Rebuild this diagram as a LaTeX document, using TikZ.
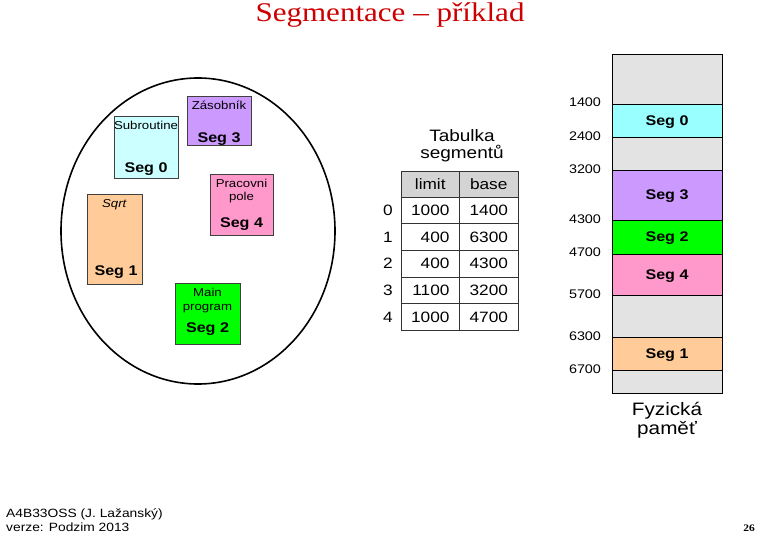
\documentclass[tikz,border=0pt]{standalone}
\usepackage{fontspec}
\setmainfont{Liberation Sans}[FakeStretch=1.15]
\newfontfamily\titlefont{Liberation Serif}[FakeStretch=1.15]
\definecolor{titlered}{HTML}{CC0000}
\definecolor{cyanlt}{HTML}{CCFFFF}
\definecolor{cyanseg}{HTML}{99FFFF}
\definecolor{lilac}{HTML}{CC99FF}
\definecolor{pinkseg}{HTML}{FF99CC}
\definecolor{peach}{HTML}{FFCC99}
\definecolor{greenseg}{HTML}{00FF00}
\definecolor{memgray}{HTML}{E3E3E3}
\definecolor{headgray}{HTML}{D4D4D4}

\begin{document}
\begin{tikzpicture}[x=1pt,y=-1pt,
	progbox/.style={draw=black!75, line width=0.8pt, inner sep=0pt},
	seglbl/.style={font=\fontsize{14}{14}\selectfont\bfseries, anchor=base, inner sep=0pt},
	boxlbl/.style={font=\fontsize{11.5}{14}\selectfont, anchor=base, inner sep=0pt},
	memseg/.style={draw, line width=0.6pt, minimum width=110pt, inner sep=0pt, text depth=0pt, font=\fontsize{14}{14}\selectfont\bfseries},
	addr/.style={font=\fontsize{12.5}{12.5}\selectfont, inner sep=0pt},
	cell/.style={draw=black!80, line width=0.6pt, minimum width=58.5pt, minimum height=26.6pt, text width=38.5pt, inner xsep=10pt, inner ysep=0pt, align=right, text depth=0pt, font=\fontsize{15}{15}\selectfont},
	headcell/.style={cell, fill=headgray, align=center, minimum height=26pt},
	idx/.style={font=\fontsize{15}{15}\selectfont, inner sep=0pt, text depth=0pt},
	bigtxt/.style={anchor=base, inner sep=0pt}]
	\useasboundingbox (0,0) rectangle (780,540);
	\node[bigtxt, font=\titlefont\fontsize{27}{27}\selectfont, text=titlered] (title) at (390,22) {Segmentace – příklad};

	\draw[line width=1.6pt] (198,231) ellipse [x radius=137pt, y radius=153pt];
	\node[progbox, fill=cyanlt, minimum width=64pt, minimum height=62pt] (subr) at (146,147) {};
	\node[boxlbl] (subrname) at (146,129.3) {Subroutine};
	\node[seglbl] (subrseg) at (146,172.7) {Seg 0};
	\node[progbox, fill=lilac, minimum width=64pt, minimum height=49pt] (stack) at (219,120.5) {};
	\node[boxlbl] (stackname) at (219,109.3) {Zásobník};
	\node[seglbl] (stackseg) at (219,142.7) {Seg 3};
	\node[progbox, fill=pinkseg, minimum width=63pt, minimum height=61pt] (work) at (241.5,204.5) {};
	\node[boxlbl] (workname) at (241.5,187.3) {Pracovni};
	\node[boxlbl] (workname2) at (241.5,200.7) {pole};
	\node[seglbl] (workseg) at (241.5,227.7) {Seg 4};
	\node[progbox, fill=peach, minimum width=55pt, minimum height=90pt] (sqrt) at (114.5,239) {};
	\node[boxlbl] (sqrtname) at (114.5,207.7) {\textit{Sqrt}};
	\node[seglbl] (sqrtseg) at (116,276) {Seg 1};
	\node[progbox, fill=greenseg, minimum width=65pt, minimum height=61pt] (main) at (207.5,313.5) {};
	\node[boxlbl] (mainname) at (207.5,296.7) {Main};
	\node[boxlbl] (mainname2) at (207.5,311) {program};
	\node[seglbl] (mainseg) at (207.5,332.3) {Seg 2};

	\node[font=\fontsize{16.5}{17}\selectfont, align=center, inner sep=0pt] (tabtitle) at (462,146) {Tabulka\\segmentů};
	\node[headcell] (hlimit) at (430.25,184) {limit};
	\node[headcell] (hbase) at (488.75,184) {base};
	\node[idx] (i0) at (388,210.5) {0};
	\node[cell] (l0) at (430.25,210.5) {1000};
	\node[cell] (b0) at (488.75,210.5) {1400};
	\node[idx] (i1) at (388,237.1) {1};
	\node[cell] (l1) at (430.25,237.1) {400};
	\node[cell] (b1) at (488.75,237.1) {6300};
	\node[idx] (i2) at (388,263.7) {2};
	\node[cell] (l2) at (430.25,263.7) {400};
	\node[cell] (b2) at (488.75,263.7) {4300};
	\node[idx] (i3) at (388,290.3) {3};
	\node[cell] (l3) at (430.25,290.3) {1100};
	\node[cell] (b3) at (488.75,290.3) {3200};
	\node[idx] (i4) at (388,316.9) {4};
	\node[cell] (l4) at (430.25,316.9) {1000};
	\node[cell] (b4) at (488.75,316.9) {4700};

	\node[draw, line width=0.6pt, fill=memgray, minimum width=110pt, minimum height=339pt, inner sep=0pt, anchor=north west] (mem) at (612,54) {};
	\node[memseg, fill=cyanseg, minimum height=33pt] (mseg0) at (667,120.5) {Seg 0};
	\node[memseg, fill=lilac, minimum height=50pt] (mseg3) at (667,195) {Seg 3};
	\node[memseg, fill=greenseg, minimum height=34pt] (mseg2) at (667,237) {Seg 2};
	\node[memseg, fill=pinkseg, minimum height=41pt] (mseg4) at (667,274.5) {Seg 4};
	\node[memseg, fill=peach, minimum height=33pt] (mseg1) at (667,353.5) {Seg 1};
	\node[addr] (a1400) at (585,102) {1400};
	\node[addr] (a2400) at (585,136) {2400};
	\node[addr] (a3200) at (585,169) {3200};
	\node[addr] (a4300) at (585,219) {4300};
	\node[addr] (a4700) at (585,252.5) {4700};
	\node[addr] (a5700) at (585,294.5) {5700};
	\node[addr] (a6300) at (585,336) {6300};
	\node[addr] (a6700) at (585,369.5) {6700};
	\node[bigtxt, font=\fontsize{18}{18}\selectfont] (phys1) at (667,415) {Fyzická};
	\node[bigtxt, font=\fontsize{18}{18}\selectfont] (phys2) at (667,434) {paměť};

	\node[bigtxt, anchor=base west, font=\fontsize{12}{14}\selectfont] (foot1) at (6,517) {A4B33OSS (J. Lažanský)};
	\node[bigtxt, anchor=base west, font=\fontsize{12}{14}\selectfont] (foot2) at (6,531) {verze: Podzim 2013};
	\node[bigtxt, font=\titlefont\fontsize{10}{10}\selectfont\bfseries] (pagenum) at (749,531) {26};
\end{tikzpicture}
\end{document}
